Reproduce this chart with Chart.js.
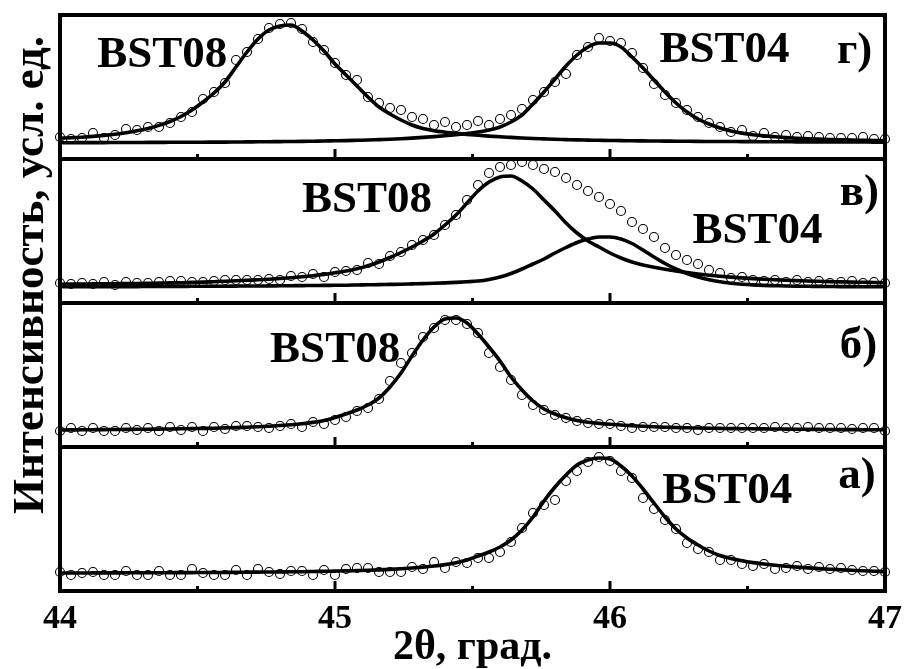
<!DOCTYPE html>
<html lang="ru">
<head>
<meta charset="utf-8">
<title>BST04 / BST08 (2θ)</title>
<script src="https://cdn.jsdelivr.net/npm/chart.js@4.4.1/dist/chart.umd.min.js"></script>
<style>
  html, body { margin: 0; padding: 0; background: #fff; }
  #wrap { position: relative; width: 904px; height: 669px; }
</style>
</head>
<body>
<div id="wrap"><canvas id="xrdChart"></canvas></div>
<script>
// 2θ scan grid, degrees
const twoTheta = [
  44.00, 44.04, 44.08, 44.12, 44.16, 44.20, 44.24, 44.28, 44.32, 44.36,
  44.40, 44.44, 44.48, 44.52, 44.56, 44.60, 44.64, 44.68, 44.72, 44.76,
  44.80, 44.84, 44.88, 44.92, 44.96, 45.00, 45.04, 45.08, 45.12, 45.16,
  45.20, 45.24, 45.28, 45.32, 45.36, 45.40, 45.44, 45.48, 45.52, 45.56,
  45.60, 45.64, 45.68, 45.72, 45.76, 45.80, 45.84, 45.88, 45.92, 45.96,
  46.00, 46.04, 46.08, 46.12, 46.16, 46.20, 46.24, 46.28, 46.32, 46.36,
  46.40, 46.44, 46.48, 46.52, 46.56, 46.60, 46.64, 46.68, 46.72, 46.76,
  46.80, 46.84, 46.88, 46.92, 46.96, 47.00
];

const xTicks = [44, 45, 46, 47];
const xMinorTicks = [44.5, 45.5, 46.5];

// panel г) — mixture, two separated peaks
const expG = [6, 4, 5, 10, 5, 8, 14, 13, 16, 16, 20, 26, 31, 44, 51, 60, 83, 91, 104, 115,
  119, 120, 114, 101, 93, 80, 68, 63, 46, 40, 35, 33, 26, 24, 18, 21, 16, 18, 22, 18,
  24, 28, 34, 43, 51, 61, 69, 88, 96, 105, 102, 100, 90, 75, 59, 48, 40, 33, 26, 20,
  16, 11, 13, 7, 10, 6, 8, 6, 7, 6, 5, 5, 5, 6, 4, 4];
const fitG08 = [4.8, 5.2, 5.8, 6.6, 7.6, 8.8, 10.3, 12.2, 14.6, 17.6,
  21.5, 26.5, 33, 41, 50, 61, 76, 91, 104, 113,
  117, 118, 112, 103, 92, 79, 68, 57, 46, 36,
  29, 23, 18, 14.5, 12.3, 10.8, 9.6, 8.6, 7.7, 6.9,
  6.2, 5.6, 5.0, 4.5, 4.1, 3.7, 3.4, 3.1, 2.9, 2.7,
  2.5, 2.4, 2.2, 2.1, 2.0, 1.9, 1.8, 1.7, 1.6, 1.55,
  1.5, 1.45, 1.4, 1.35, 1.3, 1.25, 1.2, 1.15, 1.1, 1.05,
  1.0, 1.0, 0.95, 0.95, 0.9, 0.9];
const fitG04 = [0.3, 0.3, 0.4, 0.4, 0.4, 0.5, 0.5, 0.5, 0.6, 0.6,
  0.7, 0.7, 0.8, 0.8, 0.9, 0.9, 1.0, 1.1, 1.2, 1.3,
  1.4, 1.5, 1.6, 1.8, 2.0, 2.2, 2.4, 2.7, 3.0, 3.4,
  3.8, 4.3, 4.9, 5.6, 6.4, 7.3, 8.3, 9.5, 11, 13,
  16, 21, 28, 39, 51, 64, 77, 88, 96, 100,
  100, 96, 86, 75, 63, 51, 40, 31, 24, 19,
  15, 12, 9.9, 8.3, 7.1, 6.2, 5.4, 4.8, 4.3, 3.9,
  3.5, 3.2, 2.9, 2.7, 2.5, 2.3];

// panel в) — overlapping peaks
const expV = [4, 3, 4, 3, 5, 2, 5, 4, 4, 5, 6, 6, 5, 5, 6, 7, 7, 7, 7, 8,
  7, 11, 10, 13, 10, 15, 16, 17, 24, 23, 31, 35, 42, 47, 52, 62, 72, 87, 102, 114,
  120, 122, 125, 122, 118, 115, 109, 102, 96, 90, 83, 76, 65, 58, 50, 39, 32, 27, 23, 17,
  14, 9, 10, 7, 6, 7, 5, 7, 5, 6, 4, 5, 6, 4, 5, 4];
const fitV08 = [2.8, 2.9, 3.0, 3.1, 3.2, 3.3, 3.4, 3.5, 3.7, 3.9,
  4.1, 4.3, 4.6, 4.9, 5.3, 5.7, 6.2, 6.7, 7.2, 7.8,
  8.5, 9.3, 10.2, 11.3, 12.6, 14.2, 16.0, 18.3, 21.2, 25,
  29.5, 34.5, 40, 46, 53, 62, 72, 84, 96, 105,
  110, 111, 106, 98, 87, 76, 64, 54, 46, 40,
  34, 29, 25, 22, 19.8, 17.8, 16, 14.4, 13, 11.8,
  10.8, 9.9, 9.1, 8.4, 7.8, 7.3, 6.8, 6.4, 6.0, 5.7,
  5.4, 5.1, 4.9, 4.7, 4.5, 4.3];
const fitV04 = [0.2, 0.2, 0.3, 0.3, 0.3, 0.4, 0.4, 0.4, 0.5, 0.5,
  0.6, 0.6, 0.7, 0.7, 0.8, 0.8, 0.9, 1.0, 1.0, 1.1,
  1.2, 1.3, 1.4, 1.5, 1.6, 1.7, 1.8, 2.0, 2.2, 2.4,
  2.6, 2.8, 3.1, 3.4, 3.7, 4.1, 4.6, 5.2, 6.0, 7.6,
  10, 13.5, 18, 23, 28, 34, 39.5, 44.5, 48, 50,
  50, 48, 43.5, 37, 30, 23.5, 18, 13.5, 10, 7.2,
  5.2, 3.8, 2.8, 2.1, 1.6, 1.3, 1.0, 0.8, 0.7, 0.6,
  0.5, 0.4, 0.4, 0.3, 0.3, 0.3];

// panel б) — BST08 film
const expB = [0, 3, 0, 3, 0, 0, 3, 1, 3, 0, 4, 1, 4, 0, 4, 2, 5, 5, 4, 3,
  5, 7, 4, 9, 7, 11, 14, 20, 23, 32, 50, 68, 78, 94, 103, 111, 111, 107, 98, 78,
  64, 51, 36, 26, 21, 16, 13, 10, 8, 7, 7, 5, 3, 4, 4, 4, 3, 3, 1, 3,
  3, 3, 3, 3, 3, 4, 3, 3, 4, 3, 3, 3, 2, 3, 3, 0];
const fitB = [1.0, 1.1, 1.2, 1.3, 1.4, 1.5, 1.6, 1.7, 1.8, 1.9,
  2.0, 2.2, 2.4, 2.6, 2.8, 3.1, 3.4, 3.8, 4.2, 4.8,
  5.5, 6.3, 7.3, 8.6, 10.5, 13.5, 17, 21, 26, 33,
  44, 58, 75, 91, 104, 112, 113, 108, 97, 84,
  70, 54, 41, 30, 22, 17, 13.2, 10.5, 8.8, 7.6,
  6.7, 6.0, 5.3, 4.7, 4.2, 3.8, 3.5, 3.2, 3.0, 2.8,
  2.6, 2.4, 2.3, 2.2, 2.1, 2.0, 1.9, 1.8, 1.7, 1.6,
  1.5, 1.4, 1.35, 1.3, 1.25, 1.2];

// panel а) — BST04 film
const expA = [3, 0, 2, 3, 0, 0, 4, 0, 0, 4, 0, 0, 6, 2, 0, 0, 5, 0, 6, 3,
  1, 4, 4, 0, 5, 0, 6, 7, 7, 3, 3, 3, 8, 6, 13, 7, 13, 12, 17, 17,
  23, 33, 47, 62, 70, 75, 94, 104, 113, 118, 114, 104, 97, 77, 66, 55, 46, 32, 26, 23,
  15, 15, 11, 9, 11, 6, 7, 9, 6, 8, 6, 7, 5, 4, 4, 3];
const fitA = [2.0, 2.0, 2.0, 2.1, 2.1, 2.1, 2.2, 2.2, 2.2, 2.3,
  2.3, 2.4, 2.4, 2.5, 2.5, 2.6, 2.7, 2.8, 2.9, 3.0,
  3.1, 3.2, 3.3, 3.5, 3.7, 3.9, 4.1, 4.4, 4.7, 5.1,
  5.6, 6.2, 7.0, 7.9, 9.0, 10.4, 12.3, 15, 19, 23,
  28, 35, 45, 58, 74, 88, 100, 110, 115, 117,
  116, 109, 99, 86, 72, 58, 46, 37, 30, 24,
  19.5, 16.5, 14.2, 12.4, 11, 9.8, 8.8, 7.9, 7.1, 6.4,
  5.8, 5.2, 4.7, 4.2, 3.8, 3.4];

// panels from top to bottom
const panelIds = ['yG', 'yV', 'yB', 'yA'];

// text inside the panels, anchored in data units of each panel
const notes = [
  { axis: 'yG', text: 'BST08', x: 44.135, y: 76 },
  { axis: 'yG', text: 'BST04', x: 46.18, y: 81 },
  { axis: 'yG', text: 'г)', x: 46.825, y: 80 },
  { axis: 'yV', text: 'BST08', x: 44.88, y: 75 },
  { axis: 'yV', text: 'BST04', x: 46.30, y: 44 },
  { axis: 'yV', text: 'в)', x: 46.835, y: 82 },
  { axis: 'yB', text: 'BST08', x: 44.764, y: 69 },
  { axis: 'yB', text: 'б)', x: 46.835, y: 73 },
  { axis: 'yA', text: 'BST04', x: 46.19, y: 72 },
  { axis: 'yA', text: 'а)', x: 46.83, y: 87 }
];

const SERIF = '"Liberation Serif", "Times New Roman", serif';

function points(values) {
  return twoTheta.map((t, i) => ({ x: t, y: values[i] }));
}

function fitLine(values, axis) {
  return {
    data: points(values),
    yAxisID: axis,
    borderColor: '#000',
    borderWidth: 3.6,
    pointRadius: 0,
    cubicInterpolationMode: 'monotone',
    fill: false
  };
}

function scan(values, axis) {
  return {
    data: points(values),
    yAxisID: axis,
    showLine: false,
    pointRadius: 4.5,
    pointBorderWidth: 1.1,
    pointBorderColor: '#000',
    pointBackgroundColor: 'rgba(0,0,0,0)',
    clip: 6
  };
}

function panelScale() {
  return {
    type: 'linear',
    position: 'left',
    stack: 'panels',
    stackWeight: 1,
    min: -16,
    max: 128,
    ticks: { display: false },
    grid: { display: false, drawTicks: false, tickLength: 0 },
    border: { display: false }
  };
}

// frames, inward ticks, in-panel labels and the vertical axis title
const panelDecor = {
  id: 'panelDecor',
  afterDatasetsDraw(chart) {
    const { ctx, scales, chartArea } = chart;
    const xs = scales.x;
    ctx.save();
    ctx.strokeStyle = '#000';
    ctx.lineCap = 'butt';

    panelIds.forEach(id => {
      const ys = scales[id];
      ctx.lineWidth = 4;
      ctx.strokeRect(xs.left, ys.top, xs.right - xs.left, ys.bottom - ys.top);

      ctx.lineWidth = 3;
      xTicks.forEach(v => {
        const px = xs.getPixelForValue(v);
        ctx.beginPath();
        ctx.moveTo(px, ys.bottom);
        ctx.lineTo(px, ys.bottom - 10);
        ctx.stroke();
      });
      xMinorTicks.forEach(v => {
        const px = xs.getPixelForValue(v);
        ctx.beginPath();
        ctx.moveTo(px, ys.bottom);
        ctx.lineTo(px, ys.bottom - 5);
        ctx.stroke();
      });
    });

    ctx.fillStyle = '#000';
    ctx.textAlign = 'left';
    ctx.textBaseline = 'alphabetic';
    ctx.font = 'bold 45px ' + SERIF;
    notes.forEach(n => {
      const px = xs.getPixelForValue(n.x);
      const py = scales[n.axis].getPixelForValue(n.y);
      ctx.fillText(n.text, px, py);
    });

    ctx.translate(chartArea.left - 17, chartArea.top + 260);
    ctx.rotate(-Math.PI / 2);
    ctx.textAlign = 'center';
    ctx.font = 'bold 45px ' + SERIF;
    ctx.fillText('Интенсивность, усл. ед.', 0, 0);
    ctx.restore();
  }
};

const scales = {
  x: {
    type: 'linear',
    position: 'bottom',
    min: 44,
    max: 47,
    grid: { display: false, drawTicks: false, tickLength: 0 },
    border: { display: false },
    ticks: {
      stepSize: 1,
      padding: 8,
      color: '#000',
      font: { family: SERIF, size: 34, weight: 'bold' },
      callback: v => (xTicks.includes(v) ? String(v) : '')
    },
    title: {
      display: true,
      text: '2θ, град.',
      color: '#000',
      font: { family: SERIF, size: 42, weight: 'bold' },
      padding: { top: 0, bottom: -4 }
    },
    afterFit: scale => {
      scale.height = 78;
      scale.paddingLeft = 0;
      scale.paddingRight = 0;
    }
  }
};
// stacked boxes are laid out bottom-up, so the lowest panel goes in first
panelIds.slice().reverse().forEach(id => { scales[id] = panelScale(); });

new Chart(document.getElementById('xrdChart'), {
  type: 'line',
  data: {
    datasets: [
      scan(expG, 'yG'), fitLine(fitG08, 'yG'), fitLine(fitG04, 'yG'),
      scan(expV, 'yV'), fitLine(fitV08, 'yV'), fitLine(fitV04, 'yV'),
      scan(expB, 'yB'), fitLine(fitB, 'yB'),
      scan(expA, 'yA'), fitLine(fitA, 'yA')
    ]
  },
  options: {
    responsive: true,
    maintainAspectRatio: false,
    animation: false,
    layout: { padding: { left: 60, right: 19, top: 15, bottom: 0 } },
    plugins: {
      legend: { display: false },
      tooltip: { enabled: false }
    },
    scales: scales
  },
  plugins: [panelDecor]
});
</script>
</body>
</html>
